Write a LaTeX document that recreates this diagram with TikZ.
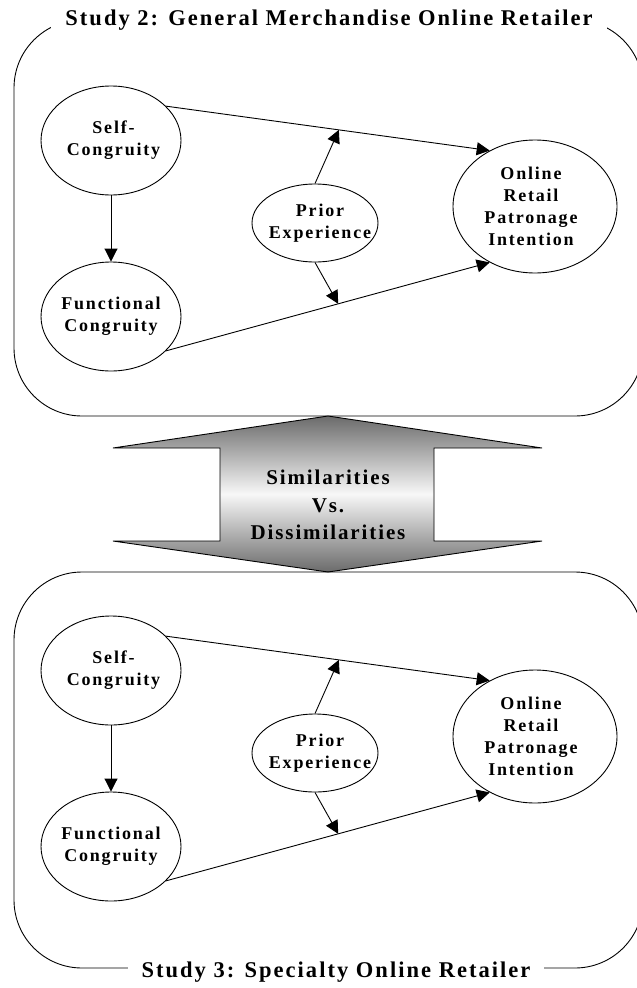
\documentclass[tikz,border=0pt]{standalone}
\usepackage{fontspec}
\setmainfont{Liberation Serif}
\newfontfamily\constructface[LetterSpace=10]{Liberation Serif}
\newfontfamily\headingface[LetterSpace=9]{Liberation Serif}
\usetikzlibrary{shapes.geometric,arrows.meta,calc}

\newcommand\constructfont{\constructface\bfseries\fontsize{18}{22}\selectfont}
\newcommand\headingfont{\headingface\bfseries\fontsize{22.5}{26}\selectfont}
\newcommand\comparefont{\headingface\bfseries\fontsize{21}{27.5}\selectfont}

\tikzset{
  construct/.style={draw, ellipse, line width=0.9pt, inner sep=0pt},
  caption/.style={font=\constructfont, align=center, inner sep=0pt},
  link/.style={line width=0.9pt, -{Triangle[length=13pt,width=13pt]}},
  panel/.style={draw, rounded corners=68pt, line width=0.9pt},
  paneltitle/.style={fill=white, inner xsep=14pt, inner ysep=1pt, font=\headingfont},
}

% one research model: #1 = name suffix, #2 = vertical offset
\newcommand\modelpanel[2]{%
  \begin{scope}[shift={(0,#2)}]
    \node[construct, minimum width=140pt, minimum height=109pt,
          label={[caption, xshift=2.5pt]center:{Self-\\Congruity}}] (self#1) at (111,140.5) {};
    \node[construct, minimum width=140pt, minimum height=109pt,
          label={[caption]center:{Functional\\Congruity}}] (func#1) at (111,316.5) {};
    \node[construct, minimum width=126pt, minimum height=78pt,
          label={[caption, xshift=5pt]center:{Prior\\Experience}}] (prior#1) at (315,223) {};
    \node[construct, minimum width=164pt, minimum height=133pt,
          label={[caption, xshift=-4pt]center:{Online\\Retail\\Patronage\\Intention}}] (online#1) at (535,206.5) {};
    \draw[link] (self#1) -- (func#1);
    \draw[link] (self#1.32) -- coordinate[pos=0.534] (upper#1) (online#1.129);
    \draw[link] (func#1.-32) -- coordinate[pos=0.532] (lower#1) (online#1.231);
    \draw[link] (prior#1.north) -- (upper#1);
    \draw[link] (prior#1.south) -- (lower#1);
  \end{scope}}

\begin{document}
\begin{tikzpicture}[x=1pt, y=-1pt]
  \useasboundingbox (0,0) rectangle (637,988);
  \fill[white] (0,0) rectangle (637,988);
  \clip (0,0) rectangle (637,988);

  % Study 2 panel
  \draw[panel] (14,20) rectangle (643,416);
  \node[paneltitle, anchor=base] (study2) at (329,25.5) {Study 2: General Merchandise Online Retailer};
  \modelpanel{A}{0}

  % comparison double arrow
  \path[draw, line width=0.9pt, top color=black!58, bottom color=black!58, middle color=black!3]
    (328,416) -- (542,448) -- (434,448) -- (434,541) -- (542,541) -- (328,572)
    -- (113,541) -- (220,541) -- (220,448) -- (113,448) -- cycle;
  \node[font=\comparefont, align=center] (compare) at (328,505) {Similarities\\Vs.\\Dissimilarities};

  % Study 3 panel
  \draw[panel] (14,572) rectangle (643,968);
  \node[paneltitle, anchor=base] (study3) at (336,977) {Study 3: Specialty Online Retailer};
  \modelpanel{B}{530}
\end{tikzpicture}
\end{document}
